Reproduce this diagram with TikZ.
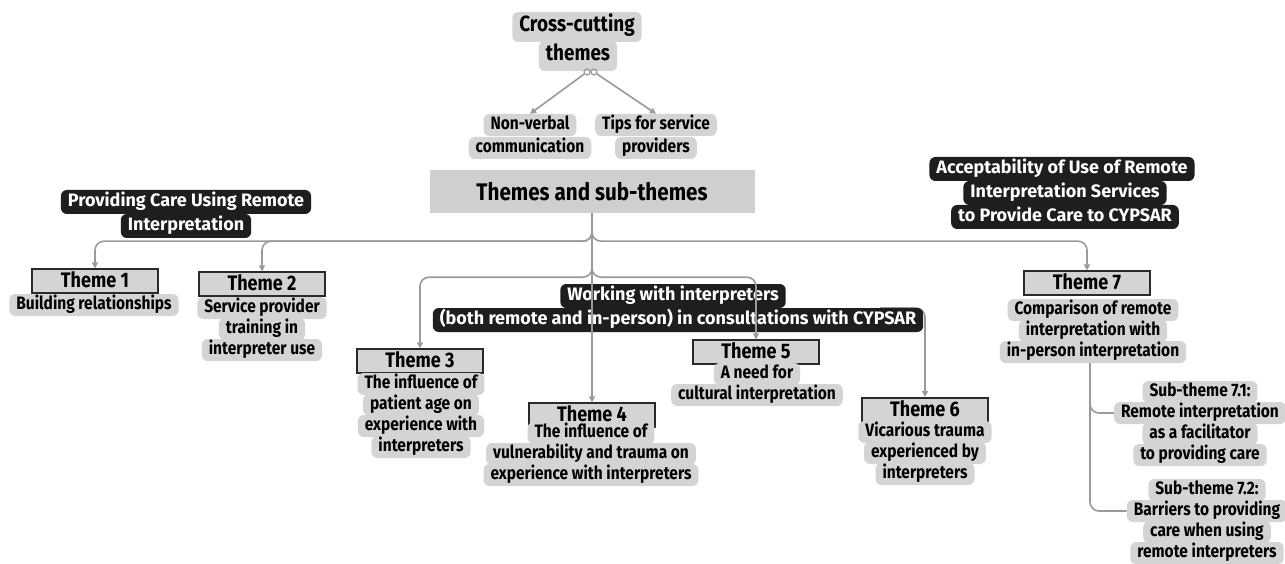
\documentclass[tikz,border=0pt]{standalone}
\usepackage{fontspec}
\newfontfamily\cf{Fira Sans}[FakeStretch=0.86]
\newfontfamily\wf{Fira Sans}
\usetikzlibrary{arrows.meta}
\definecolor{tagc}{HTML}{D4D4D4}
\definecolor{boxc}{HTML}{CFCFCF}
\definecolor{blk}{HTML}{1E1E1E}
\definecolor{lnc}{HTML}{9A9A9A}
\definecolor{hdrc}{HTML}{2A2A2A}
\tikzset{
  tagline/.style={fill=tagc, rounded corners=6pt, inner xsep=7pt, inner ysep=0pt,
    minimum height=22pt, text height=13pt, text depth=4pt,
    font=\cf\bfseries\fontsize{18}{21}\selectfont},
  blkline/.style={tagline, fill=blk, text=white, minimum height=24pt,
    font=\wf\bfseries\fontsize{18}{21}\selectfont},
  bigline/.style={tagline, minimum height=30pt, text height=15pt, text depth=5pt,
    font=\cf\bfseries\fontsize{22}{25}\selectfont},
  hdr/.style={rectangle, fill=tagc, draw=hdrc, line width=1.3pt, minimum width=126pt,
    minimum height=24pt, inner sep=0pt, text height=14pt, text depth=2pt,
    font=\cf\bfseries\fontsize{21}{23}\selectfont},
  conn/.style={draw=lnc, line width=1.6pt, rounded corners=9pt},
  arr/.style={conn, -{Triangle[length=6pt,width=6pt]}},
}
\begin{document}
\begin{tikzpicture}[x=1pt,y=-1pt]
\useasboundingbox (0,0) rectangle (1285,564);
\fill[white] (0,0) rectangle (1285,564);

% cross-cutting themes
\node[bigline] (cc1) at (577,27) {Cross-cutting};
\node[bigline] (cc2) at (578,56) {themes};
\node[circle, draw=lnc, line width=1.2pt, minimum size=6pt, inner sep=0pt] (c1) at (587,72) {};
\node[circle, draw=lnc, line width=1.2pt, minimum size=6pt, inner sep=0pt] (c2) at (594,72) {};
\node[tagline] (nv1) at (530,125) {Non-verbal};
\node[tagline] (nv2) at (530,148) {communication};
\node[tagline] (tp1) at (656,125) {Tips for service};
\node[tagline] (tp2) at (656,148) {providers};
\draw[arr] (c1) -- (nv1.north);
\draw[arr] (c2) -- (tp1.north);

% themes and sub-themes
\node[rectangle, fill=boxc, minimum width=325pt, minimum height=43pt, inner sep=0pt,
  font=\cf\bfseries\fontsize{24}{27}\selectfont] (themes) at (592,191.5) {Themes and sub-themes};

% black labels
\node[blkline] (pc1) at (186,202) {Providing Care Using Remote};
\node[blkline] (pc2) at (186,226) {Interpretation};
\node[blkline] (ac1) at (1062,169) {Acceptability of Use of Remote};
\node[blkline] (ac2) at (1065,193) {Interpretation Services};
\node[blkline] (ac3) at (1065,217) {to Provide Care to CYPSAR};

% theme 6 connector (behind label)
\coordinate (w6) at (880,308);
\draw[arr] (w6) -- (925,308) -- (925,397);

\node[blkline] (wk1) at (673,296) {Working with interpreters};
\node[blkline] (wk2) at (678,320) {(both remote and in-person) in consultations with CYPSAR};

% headers
\node[hdr] (h1) at (95,281) {Theme 1};
\node[hdr] (h2) at (262,284) {Theme 2};
\node[hdr] (h3) at (420,361) {Theme 3};
\node[hdr] (h4) at (592,415) {Theme 4};
\node[hdr] (h5) at (756,352) {Theme 5};
\node[hdr] (h6) at (925,410) {Theme 6};
\node[hdr] (h7) at (1087,283) {Theme 7};

% bodies
\node[tagline] (t1a) at (94,305) {Building relationships};

\node[tagline] (t2a) at (262,308) {Service provider};
\node[tagline] (t2b) at (262,329) {training in};
\node[tagline] (t2c) at (262,350) {interpreter use};

\node[tagline] (t3a) at (421,384) {The influence of};
\node[tagline] (t3b) at (421,405) {patient age on};
\node[tagline] (t3c) at (421,426) {experience with};
\node[tagline] (t3d) at (421,447) {interpreters};

\node[tagline] (t4a) at (591,433) {The influence of};
\node[tagline] (t4b) at (591,454) {vulnerability and trauma on};
\node[tagline] (t4c) at (591,475) {experience with interpreters};

\node[tagline] (t5a) at (757,374) {A need for};
\node[tagline] (t5b) at (757,395) {cultural interpretation};

\node[tagline] (t6a) at (925,432) {Vicarious trauma};
\node[tagline] (t6b) at (925,453) {experienced by};
\node[tagline] (t6c) at (925,474) {interpreters};

\node[tagline] (t7a) at (1093,310) {Comparison of remote};
\node[tagline] (t7b) at (1093,331) {interpretation with};
\node[tagline] (t7c) at (1093,352) {in-person interpretation};

\node[tagline] (s1a) at (1200,392) {Sub-theme 7.1:};
\node[tagline] (s1b) at (1200,413) {Remote interpretation};
\node[tagline] (s1c) at (1200,434) {as a facilitator};
\node[tagline] (s1d) at (1200,455) {to providing care};

\node[tagline] (s2a) at (1207,490) {Sub-theme 7.2:};
\node[tagline] (s2b) at (1207,511) {Barriers to providing};
\node[tagline] (s2c) at (1207,532) {care when using};
\node[tagline] (s2d) at (1207,553) {remote interpreters};

% tree connectors
\draw[arr] (themes.south) -- ++(0,28) -| (h1.north);
\draw[arr] (themes.south) -- ++(0,28) -| (h2.north);
\draw[arr] (themes.south) -- ++(0,28) -| (h7.north);
\draw[arr] (themes.south) -- ++(0,64) -| (h3.north);
\draw[arr] (themes.south) -- (h4.north);
\draw[arr] (themes.south) -- ++(0,64) -| (h5.north);

\coordinate (st) at (1090,363);
\draw[conn] (st) |- (s1b.west);
\draw[conn] (st) |- (s2b.west);
\end{tikzpicture}
\end{document}
